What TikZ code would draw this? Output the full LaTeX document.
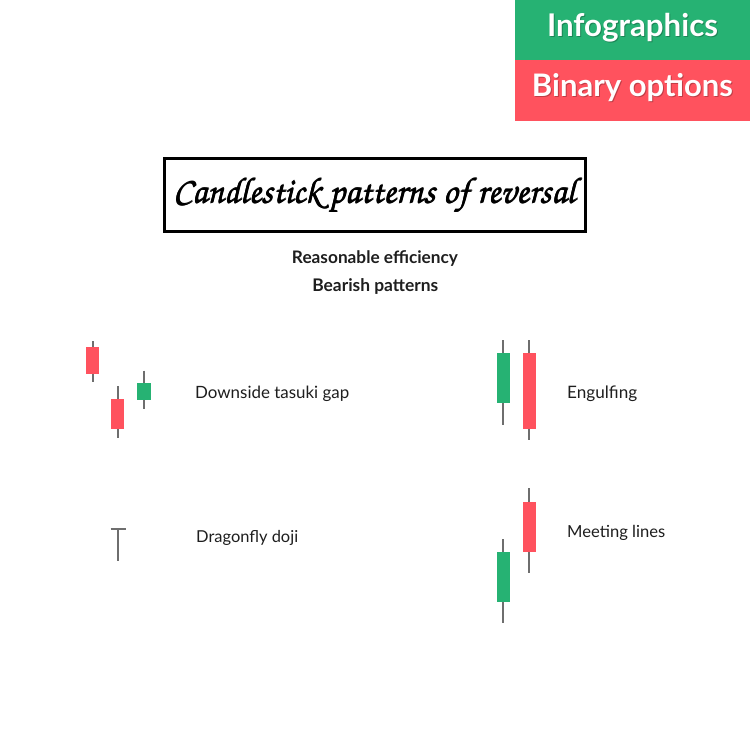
\documentclass[tikz,border=0pt]{standalone}
\usepackage[T1,TU]{fontenc}
\usepackage{fontspec}
\setmainfont{Lato}
\definecolor{cgreen}{RGB}{38,178,115}
\definecolor{cred}{RGB}{255,82,94}
\definecolor{wickc}{RGB}{110,110,110}
\definecolor{txt}{RGB}{30,30,30}
\newcommand{\cndl}[6]{%
  \draw[wickline] (#1,#2) -- (#1,#5);
  \fill[#6] (#1-6.7,#3) rectangle (#1+6.7,#4);}
\newcommand{\chancery}{\fontencoding{T1}\fontfamily{pzc}\fontseries{mb}\fontshape{it}\selectfont}
\newcommand{\titletext}{\resizebox{402pt}{!}{\chancery Candlestick patterns of reversal}}
\begin{document}
\begin{tikzpicture}[x=1pt,y=-1pt,
  wickline/.style={draw=wickc,line width=2pt},
  lbl/.style={anchor=base west,inner sep=0pt,text=txt},
  sub/.style={anchor=base,inner sep=0pt,text=txt,font=\bfseries},
  ttl/.style={anchor=base,inner sep=0pt,text=black},
  badge/.style={anchor=base,inner sep=0pt,text=white,font=\bfseries},
  badgeshadow/.style={anchor=base,inner sep=0pt,text=black,opacity=0.25,font=\bfseries}]
\useasboundingbox (0,0) rectangle (750,750);
\fill[white] (0,0) rectangle (750,750);
% badges
\fill[cgreen] (515,0) rectangle (750,60);
\fill[cred] (515,60) rectangle (750,121);
\node[badgeshadow] (b1s) at (633.5,37) {\resizebox{171pt}{!}{Infographics}};
\node[badge] (b1) at (632.5,36) {\resizebox{171pt}{!}{Infographics}};
\node[badgeshadow] (b2s) at (633.5,97.7) {\resizebox{201pt}{!}{Binary options}};
\node[badge] (b2) at (632.5,96.7) {\resizebox{201pt}{!}{Binary options}};
% title
\draw[line width=3pt,black] (164.5,158.5) rectangle (585.5,231.5);
\node[ttl] (title) at (374,203.3) {\titletext};
\node[ttl] (titleb) at (374.6,203.3) {\titletext};
\node[ttl] (titlec) at (374.3,202.9) {\titletext};
\node[sub] (s1) at (375,263.3) {\resizebox{166pt}{!}{Reasonable efficiency}};
\node[sub] (s2) at (375.3,291.7) {\resizebox{126pt}{!}{Bearish patterns}};
% candles
\cndl{92.7}{341}{346.7}{374.3}{381.7}{cred}
\cndl{117.7}{386}{399}{429.3}{438.3}{cred}
\cndl{144}{370.7}{383.3}{400}{409.3}{cgreen}
\cndl{503.3}{340}{353.3}{403.3}{425}{cgreen}
\cndl{529.3}{340}{352.7}{429}{440}{cred}
\cndl{529.3}{488.3}{501.7}{551.7}{573.3}{cred}
\cndl{503.3}{539.3}{551.7}{601.7}{623.3}{cgreen}
\draw[wickline] (110.7,529.3) -- (126,529.3);
\draw[wickline] (118,529.3) -- (118,560.7);
% labels
\node[lbl] (l1) at (195,398.3) {\resizebox{154pt}{!}{Downside tasuki gap}};
\node[lbl] (l2) at (567,398) {\resizebox{70pt}{!}{Engulfing}};
\node[lbl] (l3) at (196,542.3) {\resizebox{102pt}{!}{Dragonfly doji}};
\node[lbl] (l4) at (567,537.7) {\resizebox{98pt}{!}{Meeting lines}};
\end{tikzpicture}
\end{document}
